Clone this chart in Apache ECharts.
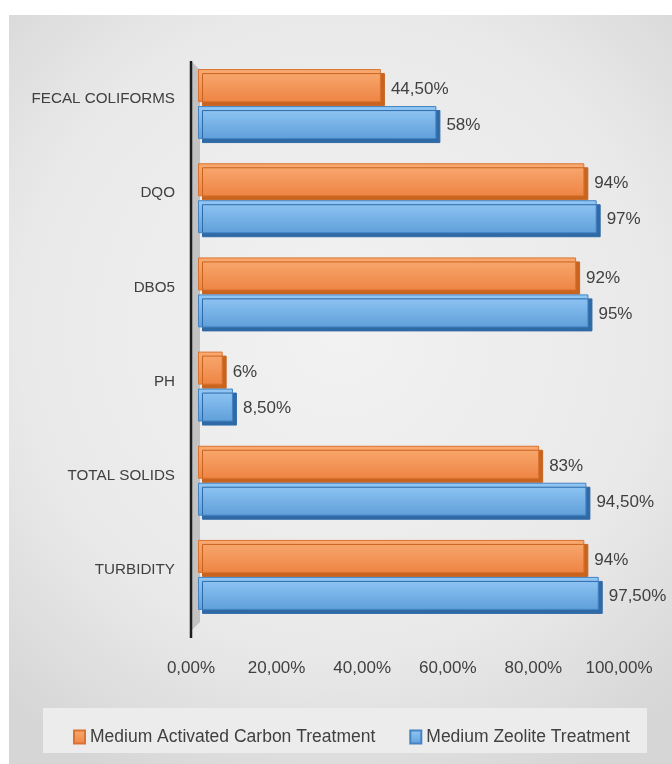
<!DOCTYPE html>
<html>
<head>
<meta charset="utf-8">
<script src="https://cdn.jsdelivr.net/npm/echarts@6/dist/echarts.min.js"></script>
<style>
html,body{margin:0;padding:0;background:#fff;}
#c{width:672px;height:764px;}
</style>
</head>
<body>
<div id="c"></div>
<script>
var categories = ['FECAL COLIFORMS', 'DQO', 'DBO5', 'PH', 'TOTAL SOLIDS', 'TURBIDITY'];
var carbonValues = [44.5, 94, 92, 6, 83, 94];
var zeoliteValues = [58, 97, 95, 8.5, 94.5, 97.5];
var carbonLabels = ['44,50%', '94%', '92%', '6%', '83%', '94%'];
var zeoliteLabels = ['58%', '97%', '95%', '8,50%', '94,50%', '97,50%'];
var seriesNames = ['Medium Activated Carbon Treatment', 'Medium Zeolite Treatment'];
var xTicks = [0, 20, 40, 60, 80, 100];

var FONT = '"Liberation Sans", Arial, sans-serif';
var TXT = '#404040';
var FS = 17;

var chart = echarts.init(document.getElementById('c'));
chart.setOption({
  backgroundColor: '#ffffff',
  animation: false,
  graphic: [
    {
      type: 'rect', z: -10, silent: true,
      shape: {x: 9, y: 15, width: 663, height: 749},
      style: {
        fill: new echarts.graphic.RadialGradient(0.5, 0.42, 0.75, [
          {offset: 0, color: '#f2f2f2'},
          {offset: 0.65, color: '#e9e9e9'},
          {offset: 1, color: '#d6d6d6'}
        ])
      }
    },
    {
      type: 'rect', z: -9, silent: true,
      shape: {x: 43, y: 708, width: 604, height: 45},
      style: {fill: '#ececec'}
    },
    {
      type: 'polygon', z: -8, silent: true,
      shape: {points: [[192, 62], [200, 70], [200, 622], [192, 630]]},
      style: {fill: '#c2c2c2'}
    },
    {
      type: 'line', z: 10, silent: true,
      shape: {x1: 191, y1: 61, x2: 191, y2: 638},
      style: {stroke: '#1e1e1e', lineWidth: 2.5}
    }
  ],
  grid: [
    {left: 198, top: 57, width: 411, height: 565, containLabel: false},
    {left: 191, top: 57, width: 428, height: 565, containLabel: false}
  ],
  legend: {
    data: seriesNames,
    left: 68, top: 723,
    itemWidth: 11, itemHeight: 13, itemGap: 34,
    icon: 'rect',
    textStyle: {color: TXT, fontFamily: FONT, fontSize: 17.5}
  },
  xAxis: [
    {
      type: 'value', gridIndex: 0, min: 0, max: 100, interval: 20,
      axisLine: {show: false}, axisTick: {show: false},
      splitLine: {show: false}, axisLabel: {show: false}
    },
    {
      type: 'value', gridIndex: 1, min: 0, max: 100, interval: 20,
      axisLine: {show: false}, axisTick: {show: false},
      splitLine: {show: false},
      axisLabel: {
        color: TXT, fontFamily: FONT, fontSize: FS, margin: 38,
        formatter: function (v) { return xTicks.indexOf(v) >= 0 ? v.toFixed(2).replace('.', ',') + '%' : ''; }
      }
    }
  ],
  yAxis: [
    {
      type: 'category', gridIndex: 0, data: categories, inverse: true,
      axisLine: {show: false},
      axisTick: {show: false},
      axisLabel: {color: TXT, fontFamily: FONT, fontSize: 15.2, margin: 23, verticalAlign: 'bottom', lineHeight: 10}
    },
    {
      type: 'category', gridIndex: 1, data: categories, inverse: true, show: false
    }
  ],
  series: [
    {
      name: seriesNames[0], type: 'bar', data: carbonValues,
      xAxisIndex: 0, yAxisIndex: 0,
      barWidth: 33, barGap: '12%',
      itemStyle: {
        color: new echarts.graphic.LinearGradient(0, 0, 0, 1, [
          {offset: 0, color: '#f9ab72'},
          {offset: 1, color: '#ee8444'}
        ]),
        borderColor: '#d9732f', borderWidth: 1,
        shadowColor: '#c9641f', shadowOffsetX: 4, shadowOffsetY: 4, shadowBlur: 0
      },
      label: {
        show: true, position: 'right', distance: 10, offset: [0, 4],
        color: TXT, fontFamily: FONT, fontSize: FS,
        formatter: function (p) { return carbonLabels[p.dataIndex]; }
      }
    },
    {
      name: seriesNames[1], type: 'bar', data: zeoliteValues,
      xAxisIndex: 0, yAxisIndex: 0,
      barWidth: 33,
      itemStyle: {
        color: new echarts.graphic.LinearGradient(0, 0, 0, 1, [
          {offset: 0, color: '#93c8f6'},
          {offset: 1, color: '#5f9fd9'}
        ]),
        borderColor: '#4383c2', borderWidth: 1,
        shadowColor: '#2f6aa7', shadowOffsetX: 4, shadowOffsetY: 4, shadowBlur: 0
      },
      label: {
        show: true, position: 'right', distance: 10, offset: [0, 3],
        color: TXT, fontFamily: FONT, fontSize: FS,
        formatter: function (p) { return zeoliteLabels[p.dataIndex]; }
      }
    }
  ]
});
</script>
</body>
</html>
